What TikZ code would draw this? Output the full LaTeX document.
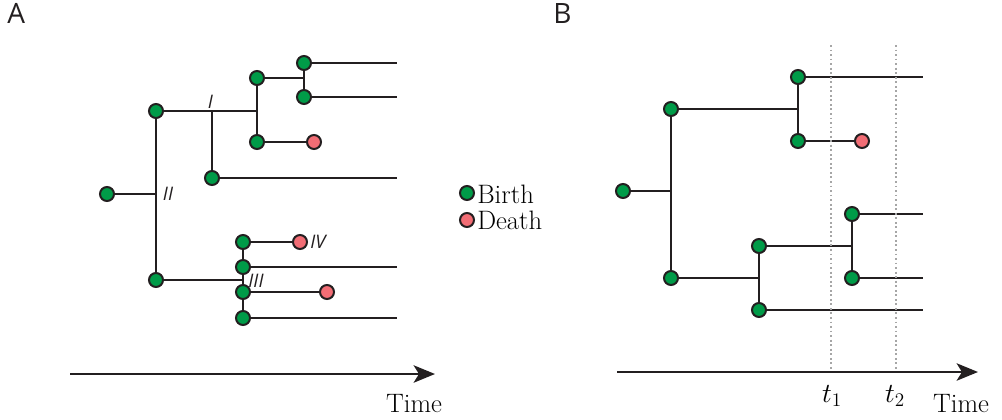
\documentclass[tikz,border=0pt]{standalone}
\usepackage{fontspec}
\setsansfont{Open Sans}
\usetikzlibrary{arrows.meta,backgrounds}
\definecolor{ink}{HTML}{231F20}
\definecolor{birthc}{HTML}{009B48}
\definecolor{deathc}{HTML}{F26D75}
\tikzset{
  ev/.style={circle,draw=ink,line width=1.5pt,minimum size=10.5pt,inner sep=0pt},
  birth/.style={ev,fill=birthc},
  death/.style={ev,fill=deathc},
  br/.style={draw=ink,line width=2pt},
  tline/.style={draw=ink,line width=2pt,-{Stealth[length=16pt,width=13pt,inset=4pt]}},
  guide/.style={draw=black!35,line width=1.4pt,dotted},
  roman/.style={font=\sffamily\itshape\fontsize{14}{16}\selectfont,text=ink,inner sep=0pt},
  panel/.style={font=\sffamily\fontsize{21}{24}\selectfont,text=ink,inner sep=0pt,anchor=north west},
  lab/.style={font=\fontsize{20}{23}\selectfont,inner sep=0pt,anchor=base}
}
\begin{document}
\begin{tikzpicture}[x=0.75pt,y=-0.75pt]
\useasboundingbox (0,0) rectangle (1002,419);
% panel labels
\node[panel] (pA) at (7,3) {A};
\node[panel] (pB) at (553,3) {B};
% ---------- Panel A ----------
\node[birth] (a0) at (107,194) {};
\coordinate (aII) at (156,194);
\node[birth] (a1) at (156,111) {};
\node[birth] (a2) at (156,280) {};
\coordinate (aI) at (212,111);
\node[birth] (a3) at (212,178) {};
\coordinate (aJ) at (257,111);
\node[birth] (a4) at (257,78) {};
\node[birth] (a5) at (257,142) {};
\coordinate (aK) at (304,78);
\node[birth] (a6) at (304,63) {};
\node[birth] (a7) at (304,97) {};
\node[death] (a8) at (314,142) {};
\coordinate (e6) at (397,63);
\coordinate (e7) at (397,97);
\coordinate (e3) at (397,178);
\coordinate (aL) at (243,280);
\node[birth] (a9) at (243,242) {};
\node[birth] (a10) at (243,267) {};
\node[birth] (a11) at (243,292) {};
\node[birth] (a12) at (243,318) {};
\node[death] (a13) at (300,242) {};
\node[death] (a14) at (327,292) {};
\coordinate (e10) at (397,267);
\coordinate (e12) at (397,318);
\begin{pgfonlayer}{background}
\draw[br] (a0.center) -- (aII);
\draw[br] (a1.center) -- (a2.center);
\draw[br] (a1.center) -- (aJ);
\draw[br] (aI) -- (a3.center);
\draw[br] (a3.center) -- (e3);
\draw[br] (a4.center) -- (a5.center);
\draw[br] (a4.center) -- (aK);
\draw[br] (a6.center) -- (a7.center);
\draw[br] (a6.center) -- (e6);
\draw[br] (a7.center) -- (e7);
\draw[br] (a5.center) -- (a8.center);
\draw[br] (a2.center) -- (aL);
\draw[br] (a9.center) -- (a12.center);
\draw[br] (a9.center) -- (a13.center);
\draw[br] (a10.center) -- (e10);
\draw[br] (a11.center) -- (a14.center);
\draw[br] (a12.center) -- (e12);
\end{pgfonlayer}
\node[roman] (lI) at (210.5,102) {I};
\node[roman] (lII) at (168,194) {II};
\node[roman] (lIII) at (256,281) {III};
\node[roman] (lIV) at (318,242) {IV};
% time axis A
\coordinate (tA0) at (70,374);
\coordinate (tA1) at (435,374);
\draw[tline] (tA0) -- (tA1);
\node[lab] (timeA) at (414,412) {Time};
% legend
\node[birth] (lgb) at (467,193) {};
\node[death] (lgd) at (467,220) {};
\node[font=\fontsize{20}{23}\selectfont,inner sep=0pt,anchor=base west] (lgbt) at (477,203) {Birth};
\node[font=\fontsize{20}{23}\selectfont,inner sep=0pt,anchor=base west] (lgdt) at (477,229) {Death};
% ---------- Panel B ----------
\coordinate (g1a) at (831,45);
\coordinate (g1b) at (831,370);
\coordinate (g2a) at (896,45);
\coordinate (g2b) at (896,370);
\draw[guide] (g1a) -- (g1b);
\draw[guide] (g2a) -- (g2b);
\node[birth] (b0) at (623,191) {};
\coordinate (bJ1) at (671,191);
\node[birth] (b1) at (671,109) {};
\node[birth] (b2) at (671,278) {};
\coordinate (bJ2) at (798,109);
\node[birth] (b3) at (798,77) {};
\node[birth] (b4) at (798,141) {};
\node[death] (b5) at (862,141) {};
\coordinate (bJ3) at (759,278);
\node[birth] (b6) at (759,246) {};
\node[birth] (b7) at (759,310) {};
\coordinate (bJ4) at (852,246);
\node[birth] (b8) at (852,214) {};
\node[birth] (b9) at (852,278) {};
\coordinate (f3) at (923,77);
\coordinate (f8) at (923,214);
\coordinate (f9) at (923,278);
\coordinate (f7) at (923,310);
\begin{pgfonlayer}{background}
\draw[br] (b0.center) -- (bJ1);
\draw[br] (b1.center) -- (b2.center);
\draw[br] (b1.center) -- (bJ2);
\draw[br] (b3.center) -- (b4.center);
\draw[br] (b3.center) -- (f3);
\draw[br] (b4.center) -- (b5.center);
\draw[br] (b2.center) -- (bJ3);
\draw[br] (b6.center) -- (b7.center);
\draw[br] (b6.center) -- (bJ4);
\draw[br] (b8.center) -- (b9.center);
\draw[br] (b8.center) -- (f8);
\draw[br] (b9.center) -- (f9);
\draw[br] (b7.center) -- (f7);
\end{pgfonlayer}
% time axis B
\coordinate (tB0) at (617,372);
\coordinate (tB1) at (978,372);
\draw[tline] (tB0) -- (tB1);
\node[lab] (t1) at (832,402) {$t_1$};
\node[lab] (t2) at (895,402) {$t_2$};
\node[lab] (timeB) at (961,412) {Time};
\end{tikzpicture}
\end{document}
